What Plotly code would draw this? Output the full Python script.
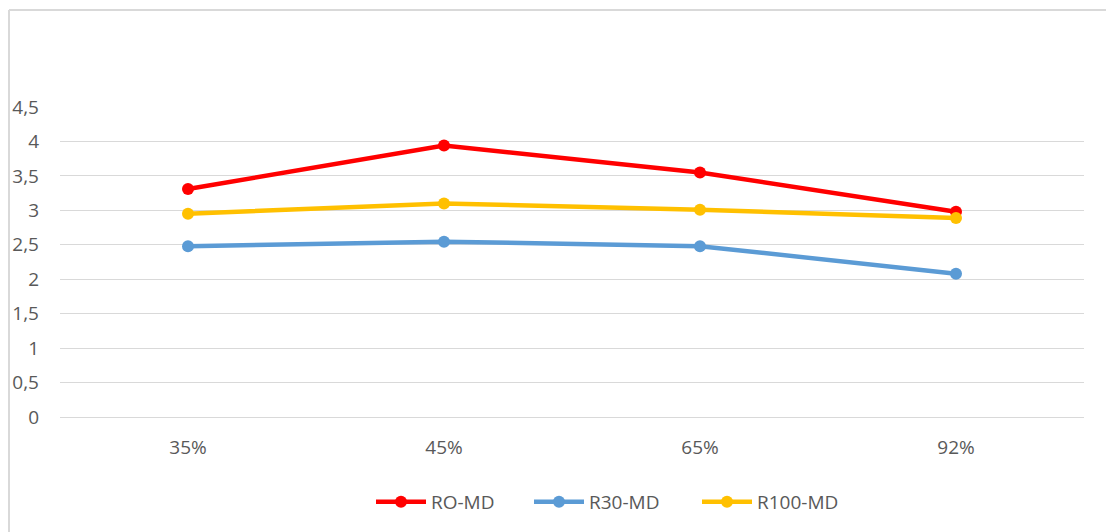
import plotly.graph_objects as go

categories = ["35%", "45%", "65%", "92%"]
ro_md = [3.31, 3.94, 3.55, 2.98]
r30_md = [2.48, 2.545, 2.48, 2.08]
r100_md = [2.95, 3.10, 3.01, 2.89]

series = [
    ("RO-MD", ro_md, "#FF0000"),
    ("R30-MD", r30_md, "#5B9BD5"),
    ("R100-MD", r100_md, "#FFC000"),
]

font_color = "#595959"
FS = 19
# page body has an 8px offset; margins compensate for it
L, R, T, B = 52, 38, 99, 123
PW = 1114 - L - R
PH = 532 - T - B

legend_px = [371, 529, 697]  # left edges in viewport pixels
legend_names = ["legend", "legend2", "legend3"]

fig = go.Figure()
for (name, vals, color), lg in zip(series, legend_names):
    fig.add_trace(go.Scatter(
        x=categories, y=vals, name=name, mode="lines+markers",
        line=dict(color=color, width=4.5),
        marker=dict(color=color, size=12),
        legend=lg,
    ))

legends = {}
for lg, px in zip(legend_names, legend_px):
    legends[lg] = dict(orientation="h", x=(px - 8 - L) / PW, xanchor="left",
                       y=-0.274, yanchor="middle", itemwidth=50,
                       font=dict(size=FS, color=font_color), bgcolor="rgba(0,0,0,0)")

fig.update_layout(
    width=1114, height=532,
    margin=dict(l=L, r=R, t=T, b=B, autoexpand=False),
    plot_bgcolor="white", paper_bgcolor="white",
    separators=", ",
    font=dict(family="Open Sans, Liberation Sans, sans-serif", size=FS, color=font_color),
    showlegend=True,
    **legends,
    xaxis=dict(type="category", range=[-0.5, 3.5], showgrid=False, showline=False,
               zeroline=False, ticks="", ticklabelstandoff=17, automargin=False,
               tickfont=dict(size=FS, color=font_color)),
    yaxis=dict(range=[0, 4.5], dtick=0.5, tick0=0, showgrid=True, gridcolor="#D9D9D9",
               gridwidth=1, zeroline=True, zerolinecolor="#D9D9D9", zerolinewidth=1,
               showline=False, ticks="", ticklabelstandoff=20, automargin=False,
               tickfont=dict(size=FS, color=font_color)),
    shapes=[
        dict(type="line", xref="paper", yref="paper",
             x0=(1 - L) / PW, x1=1.2, y0=(PH + T - 2) / PH, y1=(PH + T - 2) / PH,
             line=dict(color="#D9D9D9", width=2)),
        dict(type="line", xref="paper", yref="paper",
             x0=(1 - L) / PW, x1=(1 - L) / PW, y0=(PH + T - 2) / PH, y1=-0.6,
             line=dict(color="#D9D9D9", width=2)),
    ],
)

fig.write_html("out.html")
